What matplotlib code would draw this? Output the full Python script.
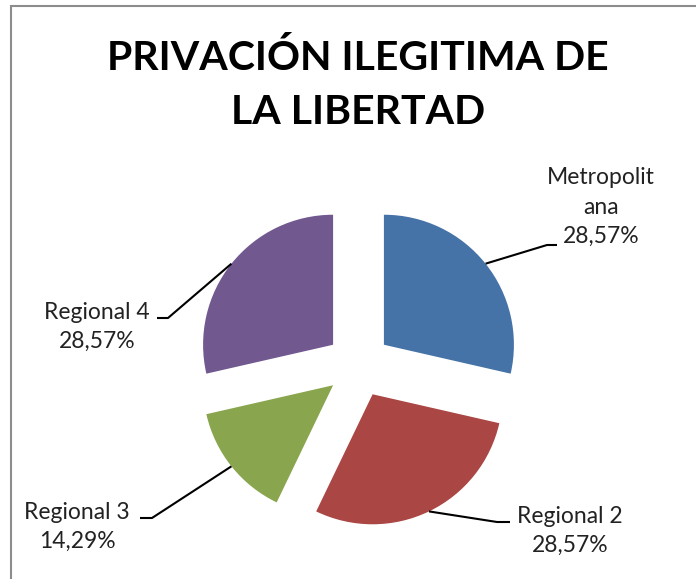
import math
import textwrap
import matplotlib
matplotlib.use("Agg")
import matplotlib.pyplot as plt
from matplotlib.patches import Rectangle

# data
categories = ["Metropolitana", "Regional 2", "Regional 3", "Regional 4"]
values = [2, 2, 1, 2]
colors = ["#4572A7", "#AA4643", "#89A54E", "#71588F"]
title_lines = ["PRIVACIÓN ILEGITIMA DE", "LA LIBERTAD"]

# layout (pixel coordinates, y grows downwards)
W, H = 696, 579
CENTER = (358.5, 365)
RADIUS = 130
EXPLODE = 32.5
label_elbow = [(547, 245), (497, 522), (152, 518), (168, 318)]
label_end = [(557, 245), (510, 522), (140, 518), (157, 318)]
label_text = [(601, 207), (570, 531), (77, 527), (97, 327)]

plt.rcParams['font.family'] = ['Lato', 'DejaVu Sans']

fig = plt.figure(figsize=(W / 100, H / 100), dpi=100)
ax = fig.add_axes([0, 0, 1, 1])

# y axis inverted -> start at -90 and go counterclockwise in data space
wedges, _ = ax.pie(values, colors=colors, startangle=-90, counterclock=True,
                   radius=RADIUS, center=CENTER, explode=[EXPLODE] * len(values),
                   wedgeprops=dict(linewidth=0))
ax.set_xlim(0, W)
ax.set_ylim(H, 0)
ax.set_aspect('equal')
ax.axis('off')

total = sum(values)
for w, name, v, elbow, end, tpos in zip(wedges, categories, values,
                                        label_elbow, label_end, label_text):
    mid = math.radians((w.theta1 + w.theta2) / 2)
    cx, cy = w.center
    sx = cx + w.r * math.cos(mid)
    sy = cy + w.r * math.sin(mid)
    ax.plot([sx, elbow[0], end[0]], [sy, elbow[1], end[1]],
            color='black', lw=1.5, solid_capstyle='butt')
    pct = f"{v / total * 100:.2f}".replace('.', ',') + '%'
    txt = "\n".join(textwrap.wrap(name, 10)) + "\n" + pct
    ax.text(tpos[0], tpos[1], txt, ha='center', va='center', fontsize=16.5,
            color='#222222', linespacing=1.5)

ax.text(358, 58, title_lines[0], ha='center', va='center', fontsize=29.5,
        fontweight='bold', color='black')
ax.text(358, 113, title_lines[1], ha='center', va='center', fontsize=29.5,
        fontweight='bold', color='black')

# chart frame (only left and top edges are visible in the crop)
fig.patches.append(Rectangle((11 / W, -0.1), 1.2, 1.1 - 6 / H,
                             transform=fig.transFigure, fill=False,
                             edgecolor='#8c8c8c', lw=1.5))

fig.savefig("out.png", dpi=100)
